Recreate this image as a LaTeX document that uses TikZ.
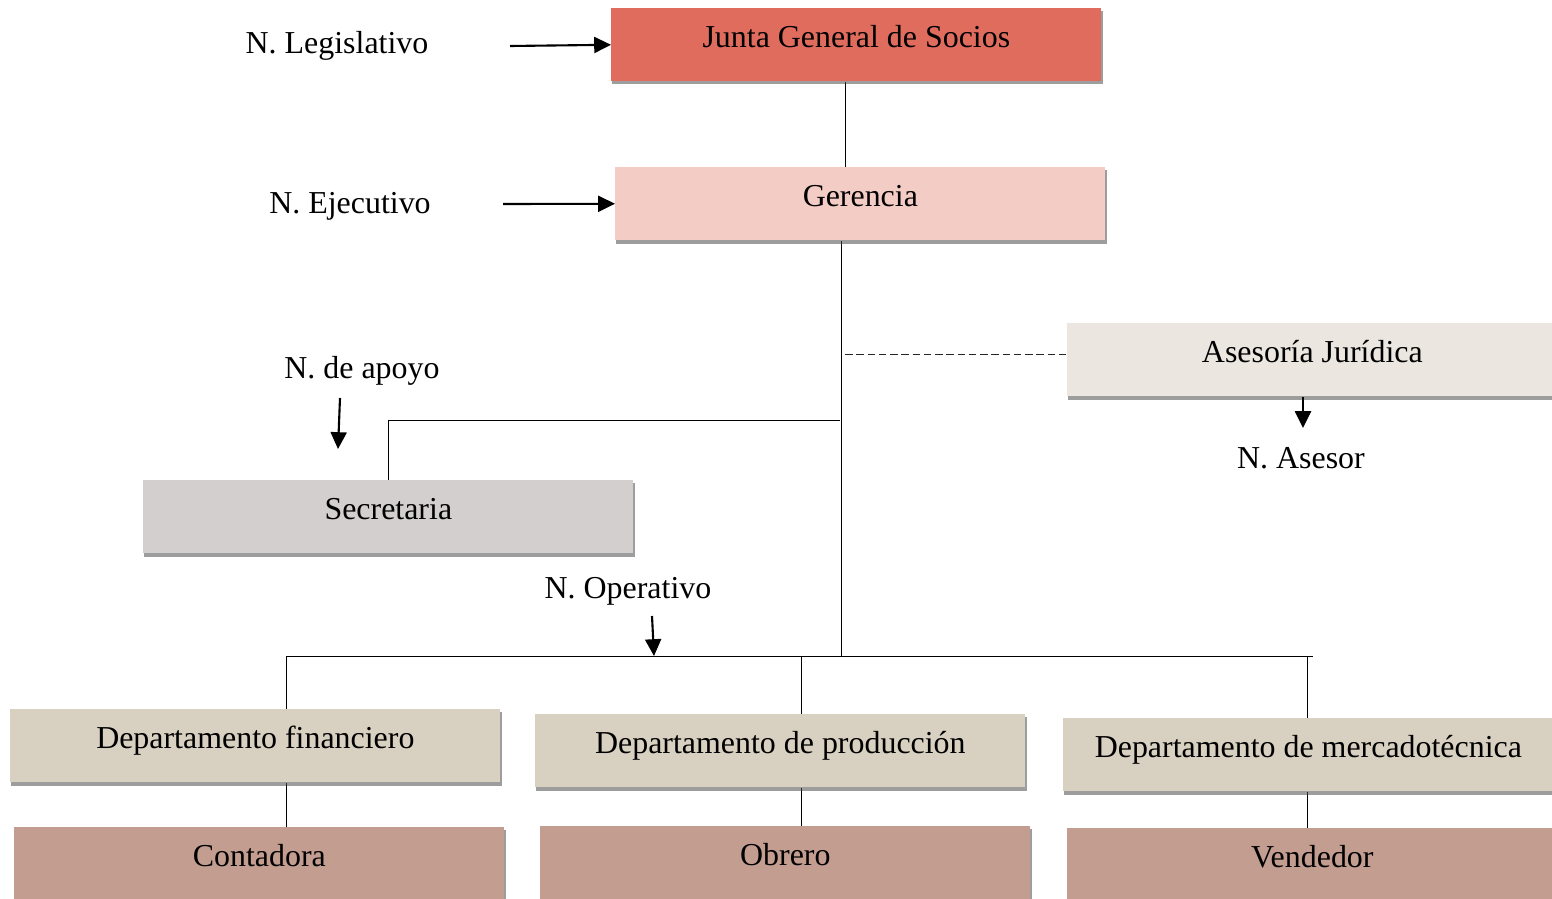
\documentclass[tikz,border=0pt]{standalone}
\usepackage{fontspec}
\setmainfont{Liberation Serif}
\usetikzlibrary{arrows.meta,shadows,backgrounds,positioning}

\definecolor{juntared}{HTML}{E06C5E}
\definecolor{gerpink}{HTML}{F4CCC6}
\definecolor{asesgray}{HTML}{ECE6E0}
\definecolor{secgray}{HTML}{D3CFCF}
\definecolor{deptbeige}{HTML}{D8D0C0}
\definecolor{staffbrown}{HTML}{C49D91}

\tikzset{
  orgbox/.style={rectangle,anchor=north west,minimum width=12.25cm,inner sep=0pt,
    text height=0.99cm,text depth=0.835cm,font=\fontsize{22.7}{27}\selectfont,
    drop shadow={shadow xshift=0.03cm,shadow yshift=-0.08cm,opacity=0.55,fill=black!70}},
  lvl/.style={anchor=base,font=\fontsize{22.7}{27}\selectfont},
  lvlarrow/.style={-{Triangle[length=0.42cm,width=0.4cm]},line width=1.5pt},
  conn/.style={line width=0.7pt},
}

\begin{document}
\begin{tikzpicture}[x=0.025cm,y=-0.025cm]
  \useasboundingbox (0,0) rectangle (1552,899);

  % boxes
  \node[orgbox,fill=juntared] (junta) at (611,8) {Junta General de Socios};
  \node[orgbox,fill=gerpink] (gerencia) at (615,167) {Gerencia};
  \node[orgbox,fill=asesgray] (asesoria) at (1067,323) {Asesoría Jurídica};
  \node[orgbox,fill=secgray] (secretaria) at (143,480) {Secretaria};
  \node[orgbox,fill=deptbeige] (dfin) at (10,709) {Departamento financiero};
  \node[orgbox,fill=deptbeige] (dprod) at (535,714) {Departamento de producción};
  \node[orgbox,fill=deptbeige] (dmerc) at (1063,718) {Departamento de mercadotécnica};
  \node[orgbox,fill=staffbrown] (contadora) at (14,827) {Contadora};
  \node[orgbox,fill=staffbrown] (obrero) at (540,826) {Obrero};
  \node[orgbox,fill=staffbrown] (vendedor) at (1067,828) {Vendedor};

  % level labels
  \node[lvl] (lleg) at (337,54) {N. Legislativo};
  \node[lvl] (lejec) at (350,214) {N. Ejecutivo};
  \node[lvl] (lapoyo) at (362,378) {N. de apoyo};
  \node[lvl] (lasesor) at (1301,468) {N. Asesor};
  \node[lvl] (loper) at (628,598) {N. Operativo};

  \coordinate (legtail) at (510,46);
  \coordinate (ejectail) at (503,204);
  \coordinate (apoyotail) at (340,398);
  \coordinate (apoyotip) at (338,449);
  \coordinate (asestail) at (1303,397);
  \coordinate (asestip) at (1303,428);
  \coordinate (opertail) at (652,616);
  \coordinate (opertip) at (654,656);

  \draw[lvlarrow] (legtail) -- (junta.west);
  \draw[lvlarrow] (ejectail) -- (gerencia.west);
  \draw[lvlarrow] (apoyotail) -- (apoyotip);
  \draw[lvlarrow] (asestail) -- (asestip);
  \draw[lvlarrow] (opertail) -- (opertip);

  % connectors
  \coordinate (jg) at (845,0);
  \coordinate (busmid) at (841,657);
  \coordinate (dashstart) at (845,354);
  \coordinate (secjoin) at (840,420);
  \coordinate (dropA) at (286,656);
  \coordinate (dropB) at (801,656);
  \coordinate (dropC) at (1307,656);
  \coordinate (busR) at (1313,656);

  \begin{scope}[on background layer]
    \draw[conn] (junta.south -| jg) -- (gerencia.north -| jg);
    \draw[conn] (gerencia.south -| busmid) -- (busmid);
    \draw[conn,dash pattern=on 5.5pt off 2.5pt,black!85] (dashstart) -- (asesoria.west |- dashstart);
    \draw[conn] (secjoin) -- (secretaria.north |- secjoin) -- (secretaria.north);
    \draw[conn] (dropA) -- (busR);
    \foreach \d/\up/\low in {dropA/dfin/contadora,dropB/dprod/obrero,dropC/dmerc/vendedor}{
      \draw[conn] (\d) -- (\d |- \up.north);
      \draw[conn] (\up.south -| \d) -- (\low.north -| \d);
    }
  \end{scope}
\end{tikzpicture}
\end{document}
